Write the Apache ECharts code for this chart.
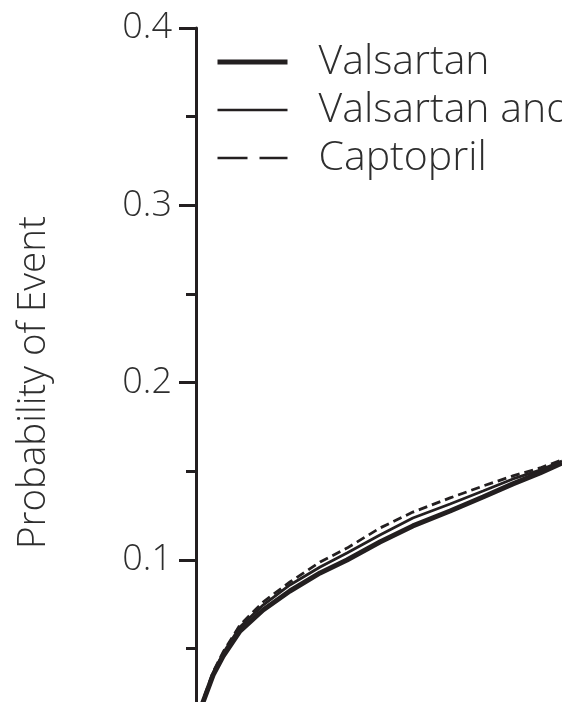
<!DOCTYPE html>
<html>
<head>
<meta charset="utf-8">
<script src="https://cdn.jsdelivr.net/npm/echarts@6/dist/echarts.min.js"></script>
<style>
  html, body { margin: 0; padding: 0; background: #fff; overflow: hidden; width: 562px; height: 702px; }
  #chart { width: 562px; height: 740px; }
</style>
</head>
<body>
<div id="chart"></div>
<script>
// Months since randomization (visible portion of the chart)
const months = [0, 0.07, 0.16, 0.23, 0.56, 0.89, 1.44, 2.2, 3.08, 4.07, 4.95, 6.03, 7.11, 8.33, 9.41, 10.39, 11.28, 12];
// Probability of event per group
const valsartan = [0, 0.0052, 0.0126, 0.0199, 0.0351, 0.0458, 0.0599, 0.0718, 0.0825, 0.0927, 0.1000, 0.1101, 0.1192, 0.1276, 0.1355, 0.1429, 0.1491, 0.1547];
const valsartanCaptopril = [0, 0.0052, 0.0131, 0.0205, 0.0363, 0.0475, 0.0622, 0.0746, 0.0859, 0.0960, 0.1039, 0.1141, 0.1237, 0.1316, 0.1389, 0.1457, 0.1507, 0.1558];
const captopril = [0, 0.0052, 0.0131, 0.0210, 0.0368, 0.0481, 0.0633, 0.0763, 0.0876, 0.0989, 0.1067, 0.1180, 0.1270, 0.1350, 0.1417, 0.1474, 0.1519, 0.1564];
const seriesNames = ['Valsartan', 'Valsartan and Captopril', 'Captopril'];
const yTicks = [0, 0.1, 0.2, 0.3, 0.4];
const yTitle = 'Probability of Event';

const ink = '#231f20';
const textInk = '#2e2e2e';
const font = '"Open Sans", "Liberation Sans", sans-serif';
const pair = (ys) => months.map((m, i) => [m, ys[i]]);

const chart = echarts.init(document.getElementById('chart'), null, { renderer: 'canvas' });
chart.setOption({
  backgroundColor: '#ffffff',
  animation: false,
  grid: { left: 196, top: 28, right: 0, bottom: 2.7, containLabel: false },
  xAxis: {
    type: 'value', min: 0, max: 12, show: false
  },
  yAxis: {
    type: 'value',
    min: yTicks[0], max: yTicks[yTicks.length - 1], interval: 0.1,
    name: yTitle,
    nameLocation: 'middle',
    nameRotate: 90,
    nameGap: 142,
    nameTextStyle: { fontFamily: font, fontSize: 38.5, color: textInk, fontWeight: 300 },
    axisLine: { show: true, lineStyle: { color: ink, width: 3 } },
    axisTick: { show: true, length: 17, lineStyle: { color: ink, width: 3 } },
    minorTick: { show: true, splitNumber: 2, length: 10, lineStyle: { color: ink, width: 3 } },
    splitLine: { show: false },
    minorSplitLine: { show: false },
    axisLabel: {
      margin: 24, fontFamily: font, fontSize: 36, color: textInk, fontWeight: 300,
      formatter: (v) => (v === 0 ? '' : v.toFixed(1))
    }
  },
  legend: {
    orient: 'vertical',
    left: 210,
    top: 33,
    itemWidth: 70,
    itemHeight: 20,
    itemGap: 0,
    selectedMode: false,
    itemStyle: { opacity: 0 },
    textStyle: { fontFamily: font, fontSize: 41, color: textInk, fontWeight: 300, lineHeight: 48, padding: [0, 0, 0, 26] },
    data: [
      { name: seriesNames[0], lineStyle: { width: 5, color: ink, type: 'solid' } },
      { name: seriesNames[1], lineStyle: { width: 2.5, color: ink, type: 'solid' } },
      { name: seriesNames[2], lineStyle: { width: 2.5, color: ink, type: [30, 12] } }
    ]
  },
  series: [
    {
      name: seriesNames[0], type: 'line', data: pair(valsartan),
      symbol: 'none', showSymbol: false,
      lineStyle: { color: ink, width: 5 }, itemStyle: { color: ink }, z: 3
    },
    {
      name: seriesNames[1], type: 'line', data: pair(valsartanCaptopril),
      symbol: 'none', showSymbol: false,
      lineStyle: { color: ink, width: 2.8 }, itemStyle: { color: ink }, z: 2
    },
    {
      name: seriesNames[2], type: 'line', data: pair(captopril),
      symbol: 'none', showSymbol: false,
      lineStyle: { color: ink, width: 2.8, type: [9, 5] }, itemStyle: { color: ink }, z: 1
    }
  ]
});
</script>
</body>
</html>
